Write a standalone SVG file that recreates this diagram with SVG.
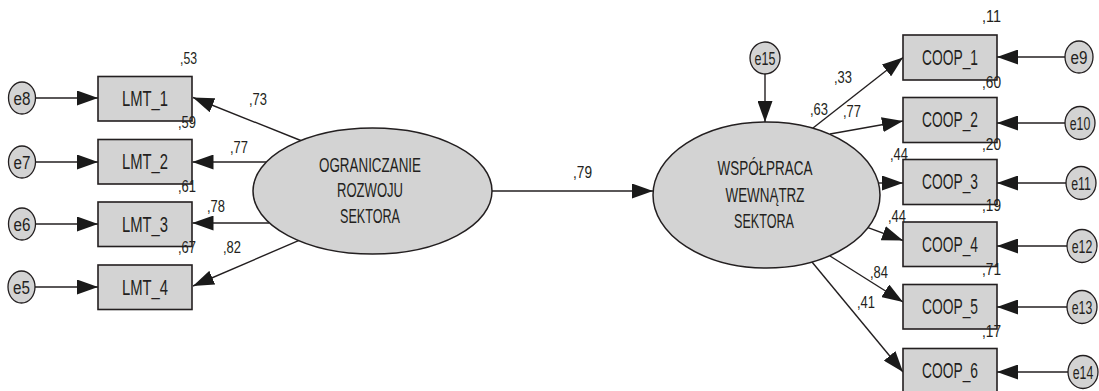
<svg xmlns="http://www.w3.org/2000/svg" width="1099" height="391" viewBox="0 0 1099 391">
<style>
  .box{fill:#d3d3d3;stroke:#231f20;stroke-width:1.6}
  .lat{fill:#d3d3d3;stroke:#231f20;stroke-width:1.5}
  .err{fill:#d3d3d3;stroke:#231f20;stroke-width:1.3}
  .t{font-family:"Liberation Sans",Arial,sans-serif;fill:#231f20;text-anchor:middle}
  .bt{font-size:21.5px}
  .lt{font-size:21px}
  .et{font-size:19px}
  .n{font-family:"Liberation Sans",Arial,sans-serif;fill:#231f20;font-size:17px}
  .c{stroke:#231f20;stroke-width:1.4;fill:none;marker-end:url(#ah)}
</style>
<defs>
  <marker id="ah" markerUnits="userSpaceOnUse" markerWidth="21" markerHeight="15" refX="21" refY="7.5" orient="auto">
    <path d="M0,0 L21,7.5 L0,15 Z" fill="#1a1a1a"/>
  </marker>
</defs>
<rect width="1099" height="391" fill="#ffffff"/>

<g id="connectors">
  <line class="c" x1="35.5" y1="98" x2="98" y2="98"/>
  <line class="c" x1="35.5" y1="162" x2="98" y2="162"/>
  <line class="c" x1="35.5" y1="224" x2="98" y2="224"/>
  <line class="c" x1="35" y1="287" x2="98" y2="287"/>
  <line class="c" x1="302" y1="141" x2="193" y2="97.5"/>
  <line class="c" x1="266.5" y1="162" x2="192.5" y2="162"/>
  <line class="c" x1="269" y1="223" x2="192.5" y2="223"/>
  <line class="c" x1="298.5" y1="240.6" x2="193" y2="286"/>
  <line class="c" x1="492" y1="191" x2="653" y2="191"/>
  <line class="c" x1="765" y1="74" x2="765" y2="122"/>
  <line class="c" x1="813" y1="128" x2="903" y2="57.5"/>
  <line class="c" x1="830" y1="134" x2="903" y2="121"/>
  <line class="c" x1="878.5" y1="183" x2="903" y2="183"/>
  <line class="c" x1="868" y1="227.6" x2="903" y2="240.5"/>
  <line class="c" x1="830" y1="256" x2="903" y2="302"/>
  <line class="c" x1="812" y1="262" x2="903" y2="372"/>
  <line class="c" x1="1065" y1="57" x2="997" y2="57"/>
  <line class="c" x1="1065" y1="123" x2="997" y2="123"/>
  <line class="c" x1="1066" y1="183" x2="997" y2="183"/>
  <line class="c" x1="1067" y1="246" x2="997" y2="246"/>
  <line class="c" x1="1067" y1="307" x2="997" y2="307"/>
  <line class="c" x1="1068" y1="372" x2="997" y2="372"/>
</g>

<g id="e8"><ellipse class="err" cx="22" cy="98" rx="13.5" ry="16"/><text class="t et" transform="translate(22 104.5) scale(0.8 1)">e8</text></g>
<g id="e7"><ellipse class="err" cx="22" cy="162" rx="13.5" ry="16"/><text class="t et" transform="translate(22 168.5) scale(0.8 1)">e7</text></g>
<g id="e6"><ellipse class="err" cx="22" cy="224" rx="13.5" ry="16"/><text class="t et" transform="translate(22 230.5) scale(0.8 1)">e6</text></g>
<g id="e5"><ellipse class="err" cx="21.5" cy="287" rx="13.5" ry="16"/><text class="t et" transform="translate(21.5 293.5) scale(0.8 1)">e5</text></g>

<g id="LMT_1"><rect class="box" x="98" y="76.5" width="94" height="44.5"/><text class="t bt" x="145" y="106" textLength="46" lengthAdjust="spacingAndGlyphs">LMT_1</text></g>
<g id="LMT_2"><rect class="box" x="98" y="139.5" width="94" height="44.5"/><text class="t bt" x="145" y="169" textLength="46" lengthAdjust="spacingAndGlyphs">LMT_2</text></g>
<g id="LMT_3"><rect class="box" x="98" y="202" width="94" height="44.5"/><text class="t bt" x="145" y="231.5" textLength="46" lengthAdjust="spacingAndGlyphs">LMT_3</text></g>
<g id="LMT_4"><rect class="box" x="98" y="265" width="94" height="44.5"/><text class="t bt" x="145" y="294.5" textLength="46" lengthAdjust="spacingAndGlyphs">LMT_4</text></g>

<g id="OGRANICZANIE">
  <ellipse class="lat" cx="372.5" cy="191" rx="119.5" ry="63"/>
  <text class="t lt" x="370" y="171.5" textLength="102" lengthAdjust="spacingAndGlyphs">OGRANICZANIE</text>
  <text class="t lt" x="370" y="197" textLength="66" lengthAdjust="spacingAndGlyphs">ROZWOJU</text>
  <text class="t lt" x="370" y="222.5" textLength="60" lengthAdjust="spacingAndGlyphs">SEKTORA</text>
</g>

<g id="WSPOLPRACA">
  <ellipse class="lat" cx="766.5" cy="195" rx="113.5" ry="73"/>
  <text class="t lt" x="765" y="174.5" textLength="95" lengthAdjust="spacingAndGlyphs">WSPÓŁPRACA</text>
  <text class="t lt" x="765" y="201.5" textLength="79" lengthAdjust="spacingAndGlyphs">WEWNĄTRZ</text>
  <text class="t lt" x="764" y="227.5" textLength="60" lengthAdjust="spacingAndGlyphs">SEKTORA</text>
</g>

<g id="e15"><ellipse class="err" cx="765" cy="58" rx="15" ry="16"/><text class="t et" transform="translate(765 64.5) scale(0.66 1)">e15</text></g>

<g id="COOP_1"><rect class="box" x="903" y="35" width="94" height="45"/><text class="t bt" x="950" y="64.5" textLength="56" lengthAdjust="spacingAndGlyphs">COOP_1</text></g>
<g id="COOP_2"><rect class="box" x="903" y="97.5" width="94" height="45"/><text class="t bt" x="950" y="127" textLength="56" lengthAdjust="spacingAndGlyphs">COOP_2</text></g>
<g id="COOP_3"><rect class="box" x="903" y="159.5" width="94" height="45"/><text class="t bt" x="950" y="189" textLength="56" lengthAdjust="spacingAndGlyphs">COOP_3</text></g>
<g id="COOP_4"><rect class="box" x="903" y="222" width="94" height="44.5"/><text class="t bt" x="950" y="251.5" textLength="56" lengthAdjust="spacingAndGlyphs">COOP_4</text></g>
<g id="COOP_5"><rect class="box" x="903" y="284.5" width="94" height="44.5"/><text class="t bt" x="950" y="314" textLength="56" lengthAdjust="spacingAndGlyphs">COOP_5</text></g>
<g id="COOP_6"><rect class="box" x="903" y="348.5" width="94" height="45"/><text class="t bt" x="950" y="378" textLength="56" lengthAdjust="spacingAndGlyphs">COOP_6</text></g>

<g id="e9"><ellipse class="err" cx="1079" cy="57" rx="14" ry="16"/><text class="t et" transform="translate(1079 63.5) scale(0.8 1)">e9</text></g>
<g id="e10"><ellipse class="err" cx="1080" cy="123" rx="15" ry="16.5"/><text class="t et" transform="translate(1080 129.5) scale(0.65 1)">e10</text></g>
<g id="e11"><ellipse class="err" cx="1081" cy="183" rx="15" ry="16.5"/><text class="t et" transform="translate(1081 189.5) scale(0.65 1)">e11</text></g>
<g id="e12"><ellipse class="err" cx="1082" cy="246" rx="15" ry="16.5"/><text class="t et" transform="translate(1082 252.5) scale(0.65 1)">e12</text></g>
<g id="e13"><ellipse class="err" cx="1082" cy="307" rx="15" ry="16.5"/><text class="t et" transform="translate(1082 313.5) scale(0.65 1)">e13</text></g>
<g id="e14"><ellipse class="err" cx="1083" cy="372" rx="15" ry="16.5"/><text class="t et" transform="translate(1083 378.5) scale(0.65 1)">e14</text></g>

<g id="labels">
  <text class="n" x="180" y="64" textLength="17" lengthAdjust="spacingAndGlyphs">,53</text>
  <text class="n" x="178" y="128" textLength="18" lengthAdjust="spacingAndGlyphs">,59</text>
  <text class="n" x="178" y="191.5" textLength="18" lengthAdjust="spacingAndGlyphs">,61</text>
  <text class="n" x="178" y="253" textLength="18" lengthAdjust="spacingAndGlyphs">,67</text>
  <text class="n" x="249" y="105" textLength="18" lengthAdjust="spacingAndGlyphs">,73</text>
  <text class="n" x="230" y="153" textLength="18" lengthAdjust="spacingAndGlyphs">,77</text>
  <text class="n" x="207" y="211.5" textLength="18" lengthAdjust="spacingAndGlyphs">,78</text>
  <text class="n" x="223" y="253" textLength="18" lengthAdjust="spacingAndGlyphs">,82</text>
  <text class="n" x="573" y="178" textLength="19" lengthAdjust="spacingAndGlyphs">,79</text>
  <text class="n" x="810" y="115" textLength="18" lengthAdjust="spacingAndGlyphs">,63</text>
  <text class="n" x="834" y="83" textLength="18" lengthAdjust="spacingAndGlyphs">,33</text>
  <text class="n" x="843" y="117" textLength="18" lengthAdjust="spacingAndGlyphs">,77</text>
  <text class="n" x="890" y="160" textLength="18" lengthAdjust="spacingAndGlyphs">,44</text>
  <text class="n" x="888" y="222" textLength="18" lengthAdjust="spacingAndGlyphs">,44</text>
  <text class="n" x="870" y="278" textLength="18" lengthAdjust="spacingAndGlyphs">,84</text>
  <text class="n" x="857" y="308" textLength="18" lengthAdjust="spacingAndGlyphs">,41</text>
  <text class="n" x="982" y="22" textLength="19" lengthAdjust="spacingAndGlyphs">,11</text>
  <text class="n" x="982" y="87.5" textLength="19" lengthAdjust="spacingAndGlyphs">,60</text>
  <text class="n" x="982" y="150" textLength="19" lengthAdjust="spacingAndGlyphs">,20</text>
  <text class="n" x="982" y="210.5" textLength="19" lengthAdjust="spacingAndGlyphs">,19</text>
  <text class="n" x="982" y="275" textLength="19" lengthAdjust="spacingAndGlyphs">,71</text>
  <text class="n" x="982" y="336.5" textLength="19" lengthAdjust="spacingAndGlyphs">,17</text>
</g>
</svg>
